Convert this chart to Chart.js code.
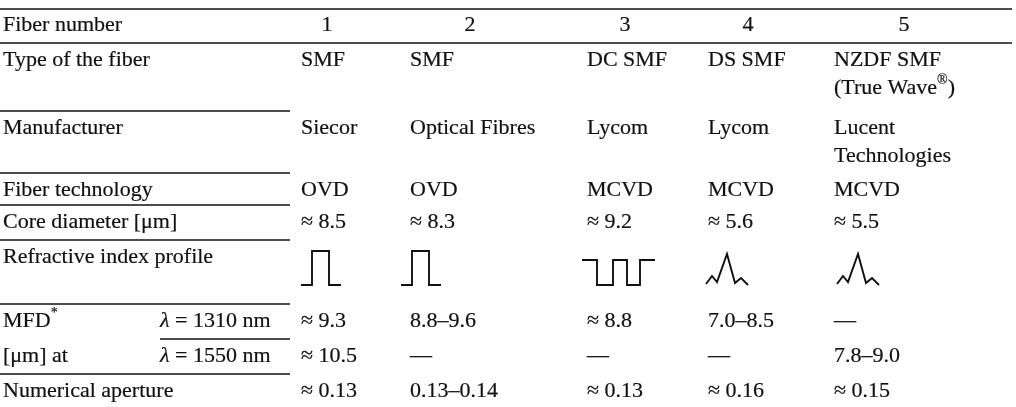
<!DOCTYPE html>
<html>
<head>
<meta charset="utf-8">
<script src="https://cdn.jsdelivr.net/npm/chart.js@4.4.0/dist/chart.umd.min.js"></script>
<style>
  html, body { margin: 0; padding: 0; background: #fff; }
  #tabla { display: block; }
</style>
</head>
<body>
<canvas id="tabla" width="1016" height="407"></canvas>
<script>
// Datos de la tabla (^...^ = superindice, ~...~ = cursiva)
const fiberNumbers = ['1', '2', '3', '4', '5'];
const rowLabels = ['Type of the fiber', 'Manufacturer', 'Fiber technology', 'Core diameter [μm]',
                   'Refractive index profile', 'MFD^*^', '[μm] at', 'Numerical aperture'];
const wavelengthLabels = ['~λ~ = 1310 nm', '~λ~ = 1550 nm'];
const fiberType = [['SMF'], ['SMF'], ['DC SMF'], ['DS SMF'], ['NZDF SMF', '(True Wave^®^)']];
const manufacturer = [['Siecor'], ['Optical Fibres'], ['Lycom'], ['Lycom'], ['Lucent', 'Technologies']];
const fiberTech = ['OVD', 'OVD', 'MCVD', 'MCVD', 'MCVD'];
const coreDiameter = ['≈ 8.5', '≈ 8.3', '≈ 9.2', '≈ 5.6', '≈ 5.5'];
const mfd1310 = ['≈ 9.3', '8.8–9.6', '≈ 8.8', '7.0–8.5', '—'];
const mfd1550 = ['≈ 10.5', '—', '—', '—', '7.8–9.0'];
const numAperture = ['≈ 0.13', '0.13–0.14', '≈ 0.13', '≈ 0.16', '≈ 0.15'];
const profileType = ['step', 'step', 'depressed', 'triangular', 'triangular'];

// Formas de los perfiles (x en px, y hacia arriba en px)
const profileShapes = {
    step: [[0, 0], [11, 0], [11, 34], [28, 34], [28, 0], [40, 0]],
    depressed: [[0, 25], [15, 25], [15, 0], [31, 0], [31, 25], [45, 25], [45, 0], [58, 0], [58, 25], [73, 25]],
    triangular: [[0, 1], [6, 9], [11, 3], [21, 31], [29, 2], [35, 7], [42, 0]]
};

// Maquetacion
const colX = [3, 301, 410, 587, 708, 834];
const headerX = [327, 470, 625, 748, 904];
const profileX = [301, 401, 582, 706, 837];
const profileBase = 285;
const rowY = [60, 128, 190, 222, 257, 321, 356, 391];
const headerY = 25;
const lineGap = 28;
const ruleOffset = 17;
const labelRuleEnd = 290;
const FONT = '"Liberation Serif", "DejaVu Serif", serif';
const FONT_SIZE = 22;
const INK = '#111';

// Reglas horizontales
const rules = [
    [0, 1012, headerY - 16],
    [0, 1012, rowY[0] - ruleOffset],
    [0, labelRuleEnd, rowY[1] - ruleOffset],
    [0, labelRuleEnd, rowY[2] - ruleOffset],
    [0, labelRuleEnd, rowY[3] - ruleOffset],
    [0, labelRuleEnd, rowY[4] - ruleOffset],
    [0, labelRuleEnd, rowY[5] - ruleOffset],
    [160, labelRuleEnd, rowY[6] - ruleOffset],
    [0, labelRuleEnd, rowY[7] - ruleOffset]
];

const datasets = [];
rules.forEach(function(r) {
    datasets.push({
        data: [{ x: r[0], y: r[2] }, { x: r[1], y: r[2] }],
        showLine: true, borderColor: INK, borderWidth: 1.5, pointRadius: 0
    });
});
profileType.forEach(function(t, i) {
    datasets.push({
        data: profileShapes[t].map(function(p) { return { x: profileX[i] + p[0], y: profileBase - p[1] }; }),
        showLine: true, borderColor: INK, borderWidth: 1.9, pointRadius: 0,
        borderJoinStyle: 'miter', tension: 0
    });
});

// Dibuja texto con superindices e italicas
function drawRich(ctx, str, x, y, size, align) {
    const parts = [];
    let mode = 'n', buf = '';
    for (const ch of str) {
        if (ch === '^' || ch === '~') {
            if (buf) parts.push([mode, buf]);
            buf = '';
            const m = ch === '^' ? 's' : 'i';
            mode = mode === m ? 'n' : m;
        } else {
            buf += ch;
        }
    }
    if (buf) parts.push([mode, buf]);
    const fontFor = function(m) {
        if (m === 's') return Math.round(size * 0.62) + 'px ' + FONT;
        if (m === 'i') return 'italic ' + size + 'px ' + FONT;
        return size + 'px ' + FONT;
    };
    let total = 0;
    parts.forEach(function(p) { ctx.font = fontFor(p[0]); total += ctx.measureText(p[1]).width; });
    let cx = align === 'center' ? x - total / 2 : x;
    ctx.textAlign = 'left';
    parts.forEach(function(p) {
        ctx.font = fontFor(p[0]);
        const ty = p[0] === 's' ? y - size * 0.36 : y;
        ctx.fillText(p[1], cx, ty);
        ctx.strokeText(p[1], cx, ty); // trazo fino para imitar el escaneo
        cx += ctx.measureText(p[1]).width;
    });
}

const tablePlugin = {
    id: 'tablePlugin',
    afterDatasetsDraw(chart) {
        const ctx = chart.ctx;
        const xs = chart.scales.x, ys = chart.scales.y;
        const px = function(v) { return xs.getPixelForValue(v); };
        const py = function(v) { return ys.getPixelForValue(v); };
        ctx.save();
        ctx.fillStyle = INK;
        ctx.strokeStyle = INK;
        ctx.lineWidth = 0.2;
        ctx.textBaseline = 'middle';

        drawRich(ctx, 'Fiber number', px(colX[0]), py(headerY), FONT_SIZE, 'left');
        fiberNumbers.forEach(function(n, i) { drawRich(ctx, n, px(headerX[i]), py(headerY), FONT_SIZE, 'center'); });

        rowLabels.forEach(function(l, r) { drawRich(ctx, l, px(colX[0]), py(rowY[r]), FONT_SIZE, 'left'); });
        wavelengthLabels.forEach(function(l, k) { drawRich(ctx, l, px(160), py(rowY[5 + k]), FONT_SIZE, 'left'); });

        const cells = [fiberType, manufacturer, fiberTech, coreDiameter, null, mfd1310, mfd1550, numAperture];
        cells.forEach(function(row, r) {
            if (!row) return;
            row.forEach(function(cell, i) {
                const lines = Array.isArray(cell) ? cell : [cell];
                lines.forEach(function(t, k) {
                    drawRich(ctx, t, px(colX[i + 1]), py(rowY[r] + k * lineGap), FONT_SIZE, 'left');
                });
            });
        });
        ctx.restore();
    }
};

new Chart(document.getElementById('tabla').getContext('2d'), {
    type: 'scatter',
    data: { datasets: datasets },
    options: {
        responsive: false,
        animation: false,
        layout: { padding: 0 },
        plugins: { legend: { display: false }, tooltip: { enabled: false } },
        scales: {
            x: { type: 'linear', min: 0, max: 1016, display: false },
            y: { type: 'linear', min: 0, max: 407, reverse: true, display: false }
        }
    },
    plugins: [tablePlugin]
});
</script>
</body>
</html>
